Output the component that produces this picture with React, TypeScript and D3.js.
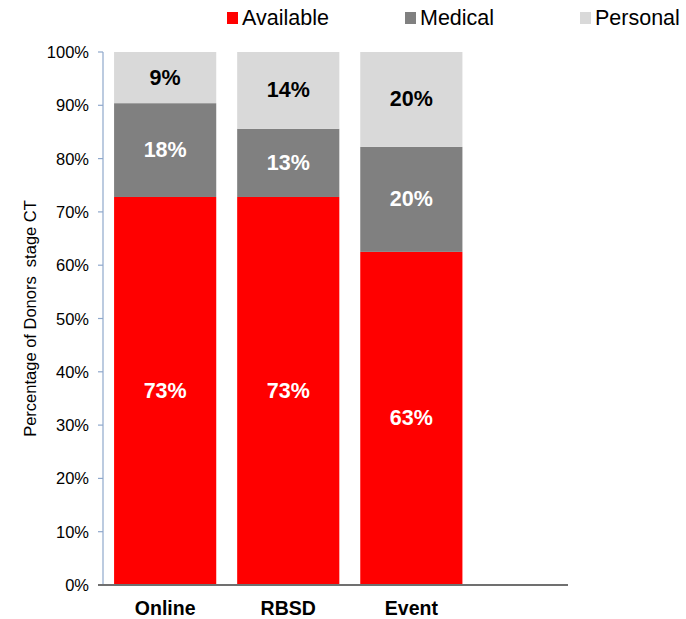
import React from "react";
import * as d3 from "d3";

const categories = ["Online", "RBSD", "Event"];
const seriesNames = ["Available", "Medical", "Personal"];
const available = [72.8, 72.8, 62.5];
const medical = [17.6, 12.8, 19.7];
const personal = [9.6, 14.4, 17.8];
const availableLabels = ["73%", "73%", "63%"];
const medicalLabels = ["18%", "13%", "20%"];
const personalLabels = ["9%", "14%", "20%"];
const yTicks = [0, 10, 20, 30, 40, 50, 60, 70, 80, 90, 100];

const colors = ["#FF0000", "#808080", "#D9D9D9"];
const labelColors = ["#FFFFFF", "#FFFFFF", "#000000"];

export default function App() {
  const W = 686, H = 619;
  const left = 103, top = 52, bottom = 585, axisEnd = 568;
  const step = 123.5;
  const x = d3.scaleBand<string>().domain(categories).range([left, left + step * categories.length]).paddingInner(0.17).paddingOuter(0.09);
  const y = d3.scaleLinear().domain([0, 100]).range([bottom, top]);

  const rows = categories.map((c, i) => ({ cat: c, Available: available[i], Medical: medical[i], Personal: personal[i] }));
  const stack = d3.stack<any>().keys(seriesNames)(rows);
  const labelSets = [availableLabels, medicalLabels, personalLabels];
  const font = "Liberation Sans, Arial, sans-serif";

  const legendX = [227, 405, 580];

  return (
    <svg width={W} height={H} style={{ position: "absolute", left: 0, top: 0, background: "#fff" }} fontFamily={font}>
      {stack.map((layer, si) => (
        <g key={si}>
          {layer.map((d, i) => (
            <rect key={i} x={x(categories[i])} width={x.bandwidth()} y={y(d[1])} height={y(d[0]) - y(d[1])} fill={colors[si]} />
          ))}
          {layer.map((d, i) => (
            <text key={"t" + i} x={(x(categories[i]) as number) + x.bandwidth() / 2} y={(y(d[0]) + y(d[1])) / 2} textAnchor="middle" dominantBaseline="central" fontSize={21.5} fontWeight="bold" fill={labelColors[si]}>
              {labelSets[si][i]}
            </text>
          ))}
        </g>
      ))}
      {/* y axis */}
      <line x1={left} x2={left} y1={top} y2={bottom} stroke="#8FA8CC" strokeWidth={1.2} />
      {yTicks.map((t) => (
        <g key={t}>
          <line x1={left - 5} x2={left} y1={y(t)} y2={y(t)} stroke="#8FA8CC" strokeWidth={1.2} />
          <text x={89} y={y(t)} textAnchor="end" dominantBaseline="central" fontSize={16.5} fill="#000">{t}%</text>
        </g>
      ))}
      {/* x axis */}
      <line x1={left - 5} x2={axisEnd} y1={bottom} y2={bottom} stroke="#707070" strokeWidth={2} />
      {categories.map((c) => (
        <text key={c} x={(x(c) as number) + x.bandwidth() / 2} y={608} textAnchor="middle" dominantBaseline="central" fontSize={19.5} fontWeight="bold" fill="#000">{c}</text>
      ))}
      {/* y title */}
      <text transform={`translate(30, ${(top + bottom) / 2}) rotate(-90)`} textAnchor="middle" dominantBaseline="central" fontSize={16.5} fill="#000" style={{ whiteSpace: "pre" }}>Percentage of Donors  stage CT</text>
      {/* legend */}
      {seriesNames.map((s, i) => (
        <g key={s}>
          <rect x={legendX[i]} y={12} width={11} height={12} fill={colors[i]} />
          <text x={legendX[i] + 15} y={18} dominantBaseline="central" fontSize={21.5} fill="#000">{s}</text>
        </g>
      ))}
    </svg>
  );
}
